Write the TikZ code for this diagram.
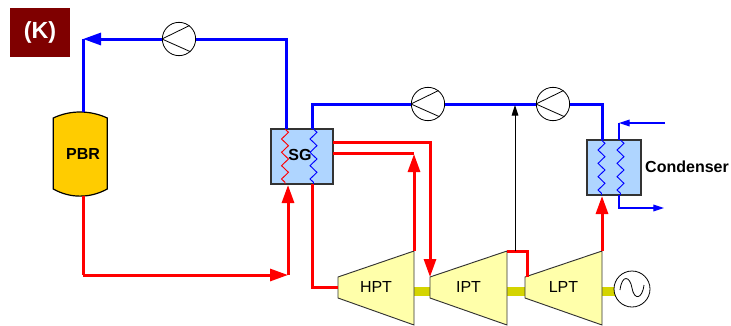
\documentclass[tikz,border=0pt]{standalone}
\usepackage{fontspec}
\setmainfont{Liberation Sans}
\usetikzlibrary{arrows.meta,decorations.pathmorphing}

\definecolor{tagred}{HTML}{7F0000}
\definecolor{corefill}{HTML}{FFCC00}
\definecolor{hxfill}{HTML}{AFD5FF}
\definecolor{turbfill}{HTML}{FFFFAA}
\definecolor{shaftfill}{HTML}{D4D400}

\tikzset{
  hotline/.style={draw=red, line width=2.25pt},
  coldline/.style={draw=blue, line width=2.25pt},
  thinblue/.style={draw=blue, line width=0.9pt},
  bigtip/.style={-{Triangle[length=13.5pt,width=9pt]}},
  smalltip/.style={-{Triangle[length=8pt,width=5pt]}},
  hxbox/.style={draw=black!80, line width=0.8pt, fill=hxfill, inner sep=0pt},
  coil/.style={decorate, decoration={zigzag, segment length=10pt, amplitude=2.6pt}, line width=0.7pt},
  pump/.style={circle, draw, fill=white, line width=0.6pt, minimum size=25pt, inner sep=0pt},
  turbine/.style={draw=black!80, line width=0.7pt, fill=turbfill},
  shaft/.style={draw=none, fill=shaftfill},
  boldlabel/.style={font=\fontsize{12pt}{14pt}\selectfont\bfseries, inner sep=0pt},
  plainlabel/.style={font=\fontsize{12pt}{14pt}\selectfont, inner sep=0pt}
}

\begin{document}
\begin{tikzpicture}[x=0.75pt,y=-0.75pt]
  \useasboundingbox (0,0) rectangle (731,325);

  % tag
  \node[fill=tagred, text=white, minimum width=45pt, minimum height=36.75pt, inner sep=0pt,
        font=\fontsize{17.5pt}{20pt}\selectfont\bfseries] (tag) at (40,32.5) {(K)};

  % reactor
  \draw[fill=corefill, line width=0.9pt] (53.3,118) .. controls (70,110) and (90,110) .. (107.3,118)
    -- (107.3,189) .. controls (90,198.5) and (70,198.5) .. (53.3,189) -- cycle;
  \node[boldlabel, minimum height=63pt] (pbr) at (83,154) {PBR};

  % steam generator
  \node[hxbox, minimum width=46.5pt, minimum height=41.25pt] (sg) at (302,156.5) {};
  \coordinate (sghottop) at (286,129);
  \coordinate (sgcoldtop) at (312,129);
  \coordinate (sgcoldbot) at (312,184);
  \draw[coil, red] (285,129) -- (285,184);
  \draw[coil, blue] (313.5,129) -- (313.5,184);
  \node[boldlabel] (sglabel) at (300,155) {SG};

  % condenser
  \node[hxbox, minimum width=40.5pt, minimum height=41.25pt] (cond) at (614,167.5) {};
  \coordinate (condhot) at (602,140);
  \coordinate (condin) at (619,140);
  \coordinate (condout) at (619,195);
  \draw[coil, blue] (601.5,140) -- (601.5,195);
  \draw[coil, blue] (620.5,140) -- (620.5,195);
  \node[boldlabel] (condlabel) at (687,167) {Condenser};

  % pumps
  \node[pump] (pumpa) at (179,39) {};
  \node[pump] (pumpb) at (428,104) {};
  \node[pump] (pumpc) at (553,104) {};
  \foreach \p in {pumpa,pumpb,pumpc} {
    \draw[line width=0.6pt] (\p.west) -- (\p.52);
    \draw[line width=0.6pt] (\p.west) -- (\p.-48);
  }

  % shafts
  \path[shaft] (414,286.5) rectangle (430,296);
  \path[shaft] (507,286.5) rectangle (525,296);
  \path[shaft] (602,286.5) rectangle (616,296);

  % turbines
  \foreach \n/\t/\x/\w in {hpt/HPT/338/76, ipt/IPT/430/77, lpt/LPT/525/77} {
    \draw[turbine] (\x,277) -- (\x+\w,251) -- (\x+\w,325) -- (\x,298) -- cycle;
    \node[plainlabel] (\n) at (\x+\w/2,287) {\t};
    \coordinate (\n in) at (\x,287.5);
    \coordinate (\n out) at (\x+\w,251);
  }

  % generator
  \node[circle, draw, fill=white, line width=0.6pt, minimum size=27pt, inner sep=0pt] (gen) at (632,289) {};
  \draw[line width=0.6pt] (620,290) .. controls (622,274) and (630,276) .. (632,288)
    .. controls (634,300) and (642,300) .. (644,285);

  % helium loop
  \coordinate (bluecorner) at (83,39);
  \coordinate (redcorner) at (288,275);
  \coordinate (redleft) at (83,275);
  \draw[coldline] (sghottop) |- (pumpa.east);
  \draw[coldline, bigtip] (pumpa.west) -- (bluecorner);
  \draw[coldline] (pbr.north) -- (bluecorner);
  \draw[hotline] (pbr.south) -- (redleft);
  \draw[hotline, bigtip] (redleft) -- (redcorner);
  \draw[hotline, bigtip] (redcorner) -- (288,185);

  % steam side
  \draw[coldline] (sgcoldtop) |- (pumpb.west);
  \draw[coldline] (pumpb.east) -- (pumpc.west);
  \draw[coldline] (pumpc.east) -| (condhot);
  \draw[hotline] (sgcoldbot) |- (hptin);
  \coordinate (rha) at (333,142);
  \coordinate (rhb) at (333,153);
  \coordinate (iptcorner) at (527,251);
  \draw[hotline, bigtip] (rha) -| (430,277);
  \draw[hotline] (rhb) -- (414,153);
  \draw[hotline, bigtip] (hptout) -- (414,154);
  \draw[hotline] (iptout) -- (iptcorner) -- (527,277);
  \draw[hotline, bigtip] (lptout) -- (602,196);
  \coordinate (blackend) at (515,105);
  \draw[line width=0.7pt, smalltip] (515,251) -- (blackend);

  % cooling water
  \coordinate (cwin) at (665,123);
  \coordinate (cwcorner) at (619,123);
  \coordinate (cwout) at (664,208);
  \draw[thinblue, smalltip] (cwin) -- (cwcorner);
  \draw[thinblue] (cwcorner) -- (condin);
  \draw[thinblue, smalltip] (condout) |- (cwout);
\end{tikzpicture}
\end{document}
